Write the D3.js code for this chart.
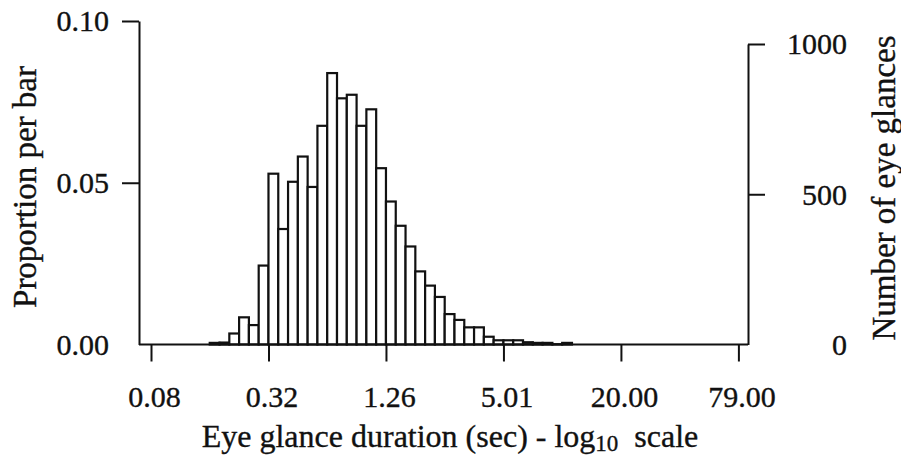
<!DOCTYPE html>
<html>
<head>
<meta charset="utf-8">
<script src="https://cdn.jsdelivr.net/npm/d3@7"></script>
<style>
  html, body { margin: 0; padding: 0; background: #fff; }
  svg text { font-family: "Liberation Serif", "Times New Roman", serif; fill: #111; stroke: #111; stroke-width: 0.35px; }
</style>
</head>
<body>
<svg id="chart" width="901" height="462"></svg>
<script>
// ---- data (log10 of glance duration, bin start; bin width 0.05 log10 units) ----
const binStarts = [-0.80,-0.75,-0.70,-0.65,-0.60,-0.55,-0.50,-0.45,-0.40,-0.35,-0.30,-0.25,
                   -0.20,-0.15,-0.10,-0.05,0.00,0.05,0.10,0.15,0.20,0.25,0.30,0.35,0.40,
                   0.45,0.50,0.55,0.60,0.65,0.70,0.75,0.80,0.85,0.90,0.95,1.00];
const proportions = [0.0005,0.0006,0.0034,0.0084,0.0060,0.0244,0.0528,0.0357,0.0503,0.0581,0.0487,0.0676,
                     0.0839,0.0761,0.0772,0.0676,0.0727,0.0545,0.0442,0.0367,0.0303,0.0226,0.0182,0.0147,0.0094,
                     0.0076,0.0053,0.0053,0.0024,0.0013,0.0013,0.0013,0.0007,0.0005,0.0005,0.0001,0.0005];
const binWidth = 0.05;
const xTickLogs = [-1.1, -0.5, 0.1, 0.7, 1.3, 1.9];
const xTickLabels = ["0.08", "0.32", "1.26", "5.01", "20.00", "79.00"];
const leftTicks = [0, 0.05, 0.10];
const leftTickLabels = ["0.00", "0.05", "0.10"];
const rightTicks = [0, 500, 1000];
const rightTickLabels = ["0", "500", "1000"];

const svg = d3.select("#chart");
const baseY = 344.5;
const x = d3.scaleLinear().domain([-1.1, 1.9]).range([151, 738.4]);
const yL = d3.scaleLinear().domain([0, 0.10]).range([baseY, 21]);
const yR = d3.scaleLinear().domain([0, 1000]).range([baseY, 44]);
const leftX = 139, rightX = 748;

// bars
svg.append("g").selectAll("rect")
  .data(binStarts.map((b, i) => ({b, p: proportions[i]})))
  .join("rect")
  .attr("x", d => x(d.b))
  .attr("width", d => x(d.b + binWidth) - x(d.b))
  .attr("y", d => yL(d.p))
  .attr("height", d => baseY - yL(d.p))
  .attr("fill", "#fff")
  .attr("stroke", "#111")
  .attr("stroke-width", 2.2);

// baseline
svg.append("line").attr("x1", leftX).attr("x2", rightX).attr("y1", baseY).attr("y2", baseY)
  .attr("stroke", "#111").attr("stroke-width", 2);

// left axis
const gL = svg.append("g").attr("transform", `translate(${leftX},0)`)
  .call(d3.axisLeft(yL).tickValues(leftTicks).tickSize(17).tickSizeOuter(0)
        .tickFormat((d, i) => leftTickLabels[i]));
gL.select(".domain").attr("stroke-width", 2).attr("stroke", "#111");
gL.selectAll(".tick line").attr("stroke-width", 2).attr("stroke", "#111")
  .filter(d => d === 0).remove();
gL.selectAll(".tick text").attr("font-size", 30).attr("x", -30).attr("dy", "0.33em")
  .attr("font-family", null);

// right axis
const gR = svg.append("g").attr("transform", `translate(${rightX},0)`)
  .call(d3.axisRight(yR).tickValues(rightTicks).tickSize(17).tickSizeOuter(0)
        .tickFormat((d, i) => rightTickLabels[i]));
gR.select(".domain").attr("stroke-width", 2).attr("stroke", "#111");
gR.selectAll(".tick line").attr("stroke-width", 2).attr("stroke", "#111")
  .filter(d => d === 0).remove();
gR.selectAll(".tick text").attr("font-size", 30).attr("x", 99).attr("text-anchor", "end")
  .attr("dy", "0.33em").attr("font-family", null);

// bottom axis
const gB = svg.append("g").attr("transform", `translate(0,${baseY})`)
  .call(d3.axisBottom(x).tickValues(xTickLogs).tickSize(17).tickSizeOuter(0)
        .tickFormat((d, i) => xTickLabels[i]));
gB.select(".domain").remove();
gB.selectAll(".tick line").attr("stroke-width", 2).attr("stroke", "#111");
gB.selectAll(".tick text").attr("font-size", 30).attr("y", 62).attr("dy", 0)
  .attr("x", 3).attr("font-family", null);

// axis titles
svg.append("text").attr("transform", "translate(36,187) rotate(-90)")
  .attr("text-anchor", "middle").attr("font-size", 33).text("Proportion per bar");
svg.append("text").attr("transform", "translate(895,188) rotate(-90)")
  .attr("text-anchor", "middle").attr("font-size", 33).text("Number of eye glances");

const xt = svg.append("text").attr("x", 450).attr("y", 447).attr("text-anchor", "middle")
  .attr("font-size", 32).attr("xml:space", "preserve");
xt.append("tspan").text("Eye glance duration (sec) - log");
xt.append("tspan").attr("font-size", 23).attr("dy", 4).text("10");
xt.append("tspan").attr("dy", -4).text("  scale");
</script>
</body>
</html>
